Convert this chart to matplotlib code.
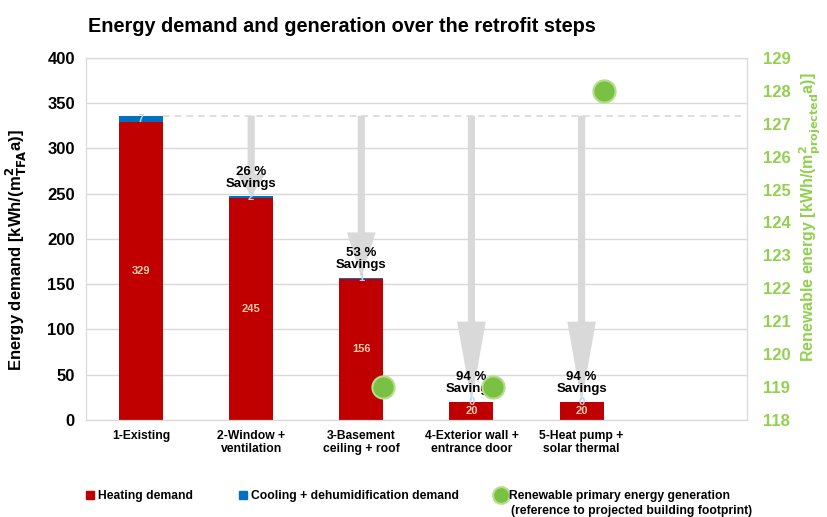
import numpy as np
import matplotlib
matplotlib.use('Agg')
import matplotlib.pyplot as plt
from matplotlib.lines import Line2D

plt.rcParams['font.family'] = ['Liberation Sans', 'DejaVu Sans']
plt.rcParams['font.weight'] = 'bold'
plt.rcParams['mathtext.default'] = 'bf'

# data
steps = ['1-Existing', '2-Window +\nventilation', '3-Basement\nceiling + roof',
         '4-Exterior wall +\nentrance door', '5-Heat pump +\nsolar thermal', '']
heating = [329, 245, 156, 20, 20]
cooling = [7, 2, 1, 0, 0]
renewable = [np.nan, np.nan, 119, 119, 128]

red = '#C00000'
blue = '#0070C0'
green = '#92D050'
grey = '#D9D9D9'

W, H = 827, 517
fig = plt.figure(figsize=(W / 100, H / 100), dpi=100)
ax = fig.add_axes([0.104, 0.188, 0.799, 0.700])
ax2 = ax.twinx()

x = np.arange(len(heating))
total = np.array(heating) + np.array(cooling)

ax.bar(x, heating, width=0.4, color=red, zorder=2)
ax.bar(x, cooling, width=0.4, bottom=heating, color=blue, zorder=2)

# baseline of existing building
base = total[0]
ax.plot([0.2, 5.45], [base, base], ls=(0, (4, 3)), color=grey, lw=1.2, zorder=1)

# savings arrows
for i in range(1, len(total)):
    length = base - total[i]
    hl = 0.28 * length
    ax.arrow(x[i], base, 0, -length, width=0.065, head_width=0.26, head_length=hl,
             length_includes_head=True, color=grey, lw=0, zorder=3)
    sav = round((1 - total[i] / base) * 100)
    ax.text(x[i], total[i] + 7, f'{sav} %\nSavings', ha='center', va='bottom',
            fontsize=9.5, fontweight='bold', linespacing=1.0, zorder=5)

for i in range(len(heating)):
    ax.text(x[i], heating[i] / 2, str(heating[i]), ha='center', va='center',
            color='#F8CBAD', fontsize=8, fontweight='bold', zorder=5)
    ax.text(x[i], heating[i] + cooling[i] / 2, str(cooling[i]), ha='center', va='center',
            color='#BDD7EE', fontsize=8, fontweight='bold', zorder=5)

ax.set_xlim(-0.5, 5.5)
ax.set_ylim(0, 400)
ax.set_yticks(range(0, 401, 50))
ax.set_xticks(np.arange(len(steps)))
ax.set_xticklabels(steps, fontsize=8.7, fontweight='bold')
ax.tick_params(length=0, pad=7)
ax.tick_params(axis='y', labelsize=12, pad=8)
ax.grid(axis='y', color=grey, lw=1, zorder=0)
ax.set_axisbelow(True)
for s in ax.spines.values():
    s.set_color(grey)
ax.set_ylabel(r'Energy demand [kWh/(m$^{2}_{TFA}$a)]', fontsize=12, fontweight='bold')
ax.yaxis.set_label_coords(-0.087, 0.47)

ax2.plot(x + 0.2, renewable, ls='none', marker='o', ms=16, mfc='#7AC143',
         mec='#B5DE8C', mew=1.5, zorder=6)
ax2.set_ylim(118, 129)
ax2.set_yticks(range(118, 130))
ax2.tick_params(length=0, labelsize=12, labelcolor=green, pad=12)
for t in ax2.get_yticklabels():
    t.set_fontweight('bold')
for s in ax2.spines.values():
    s.set_color(grey)
ax2.set_ylabel(r'Renewable energy [kWh/(m$^{2}_{projected}$a)]', fontsize=11.5,
               fontweight='bold', color=green)
ax2.yaxis.set_label_coords(1.077, 0.56)

fig.text(88 / W, 1 - 27 / H, 'Energy demand and generation over the retrofit steps',
         fontsize=14.3, fontweight='bold', va='center')

# legend, three entries placed like the original
leg_y = 1 - 490 / H
entries = [
    (85, Line2D([], [], ls='none', marker='s', ms=6, color=red), 'Heating demand'),
    (238, Line2D([], [], ls='none', marker='s', ms=6, color=blue),
     'Cooling + dehumidification demand'),
    (496, Line2D([], [], ls='none', marker='o', ms=12, mfc='#7AC143', mec='#B5DE8C', mew=1.5),
     'Renewable primary energy generation'),
]
for px, h, lab in entries:
    fig.legend([h], [lab], loc='upper left', bbox_to_anchor=(px / W, leg_y),
               frameon=False, fontsize=8.7, handlelength=0.8, handletextpad=0.3,
               borderaxespad=0, borderpad=0)
fig.text(511 / W, 1 - 511 / H, '(reference to projected building footprint)',
         fontsize=8.7, fontweight='bold', va='center')

fig.savefig('out.png', dpi=100)
